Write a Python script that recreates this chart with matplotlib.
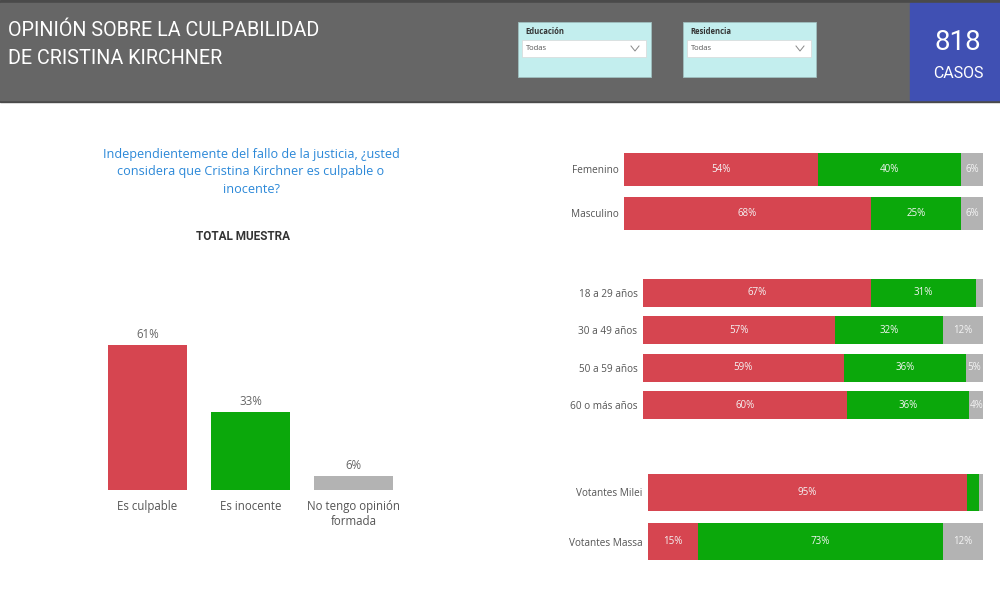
import matplotlib
matplotlib.use("Agg")
from matplotlib import pyplot as plt
from matplotlib.patches import Rectangle

plt.rcParams['font.family'] = ['Open Sans', 'DejaVu Sans']

# ---- data ----
total_cats = ['Es culpable', 'Es inocente', 'No tengo opinión\nformada']
total_vals = [61, 33, 6]

sexo_cats = ['Femenino', 'Masculino']
sexo_culp = [54, 68]
sexo_ino = [40, 25]
sexo_nso = [6, 6]

edad_cats = ['18 a 29 años', '30 a 49 años', '50 a 59 años', '60 o más años']
edad_culp = [67, 57, 59, 60]
edad_ino = [31, 32, 36, 36]
edad_nso = [2, 12, 5, 4]

voto_cats = ['Votantes Milei', 'Votantes Massa']
voto_culp = [95, 15]
voto_ino = [3.6, 73]
voto_nso = [1.2, 12]

casos = 818

RED = '#D64550'
GREEN = '#0BA80B'
GREY = '#B3B3B3'
colors = [RED, GREEN, GREY]

W, H = 1000, 602
fig = plt.figure(figsize=(W / 100, H / 100), dpi=100)


def px_axes(l, t, r, b):
    return fig.add_axes([l / W, 1 - b / H, (r - l) / W, (b - t) / H])


# ---- background / header ----
bg = px_axes(0, 0, W, H)
bg.set_xlim(0, W)
bg.set_ylim(H, 0)
bg.axis('off')
bg.add_patch(Rectangle((0, 0), W, 102, color='#4a4a4a'))
bg.add_patch(Rectangle((0, 3), 910, 97, color='#666666'))
bg.add_patch(Rectangle((910, 3), 90, 97, color='#4050B3'))
bg.text(8, 30, 'OPINIÓN SOBRE LA CULPABILIDAD', color='white', fontsize=14.2,
        va='center', ha='left', family=['Roboto', 'DejaVu Sans'])
bg.text(8, 58, 'DE CRISTINA KIRCHNER', color='white', fontsize=14.2,
        va='center', ha='left', family=['Roboto', 'DejaVu Sans'])
bg.text(958, 42, str(casos), color='white', fontsize=20, va='center', ha='center',
        family=['Roboto', 'DejaVu Sans'])
bg.text(958, 74, 'CASOS', color='white', fontsize=11.5, va='center', ha='center',
        family=['Roboto', 'DejaVu Sans'])

for x0, name in [(518, 'Educación'), (683, 'Residencia')]:
    bg.add_patch(Rectangle((x0, 22), 133, 55, facecolor='#C3EEEE', edgecolor='#9fbfbf', lw=0.6))
    bg.text(x0 + 7, 31, name, fontsize=5.5, color='#333333', va='center', fontweight='bold')
    bg.add_patch(Rectangle((x0 + 4, 40), 124, 17, facecolor='white', edgecolor='#d8d8d8', lw=0.5))
    bg.text(x0 + 8, 49, 'Todas', fontsize=5.5, color='#555555', va='center')
    bg.plot([x0 + 113, x0 + 117, x0 + 121], [46, 51, 46], color='#888888', lw=0.7)

# ---- left panel ----
bg.text(251, 172, 'Independientemente del fallo de la justicia, ¿usted\n'
        'considera que Cristina Kirchner es culpable o\ninocente?',
        color='#2B88D8', fontsize=9.1, ha='center', va='center', linespacing=1.45)
bg.text(243, 237, 'TOTAL MUESTRA', color='#333333', fontsize=8.5, ha='center',
        va='center', fontweight='bold', family=['Roboto', 'DejaVu Sans'])

ax = px_axes(96, 490 - 70 * 145 / 61, 405, 490)
xs = range(len(total_vals))
ax.bar(xs, total_vals, width=79 / 103, color=colors)
ax.set_xlim(-0.5, len(total_vals) - 0.5)
ax.set_ylim(0, 70)
for x, v in zip(xs, total_vals):
    ax.text(x, v + 1.6, f'{v}%', ha='center', va='bottom', fontsize=8.3, color='#666666')
ax.set_xticks(list(xs))
ax.set_xticklabels(total_cats, fontsize=8.3, color='#555555', linespacing=1.25, va='top')
ax.tick_params(axis='x', length=0, pad=7)
ax.set_yticks([])
for s in ax.spines.values():
    s.set_visible(False)


# ---- right panel: 100% stacked bars ----
def stacked(box, cats, series):
    a = px_axes(*box)
    n = len(cats)
    ys = list(range(n))
    totals = [sum(s[i] for s in series) for i in ys]
    left = [0.0] * n
    for vals, col in zip(series, colors):
        w = [vals[i] / totals[i] for i in ys]
        a.barh(ys, w, left=left, height=0.75, color=col)
        for i in ys:
            if vals[i] >= 4:
                a.text(left[i] + w[i] / 2, i, f'{round(vals[i])}%', ha='center',
                       va='center', fontsize=7, color='#f4f4f4')
        left = [left[i] + w[i] for i in ys]
    a.set_xlim(0, 1)
    a.set_ylim(n - 0.5, -0.5)
    a.set_yticks(ys)
    a.set_yticklabels(cats, fontsize=7.2, color='#555555')
    a.tick_params(axis='y', length=0, pad=4)
    a.set_xticks([])
    for s in a.spines.values():
        s.set_visible(False)
    return a


stacked((624, 147, 983, 235), sexo_cats, [sexo_culp, sexo_ino, sexo_nso])
stacked((643, 274.3, 983, 423.8), edad_cats, [edad_culp, edad_ino, edad_nso])
stacked((648, 468, 983, 566), voto_cats, [voto_culp, voto_ino, voto_nso])

fig.savefig('out.png', dpi=100)
